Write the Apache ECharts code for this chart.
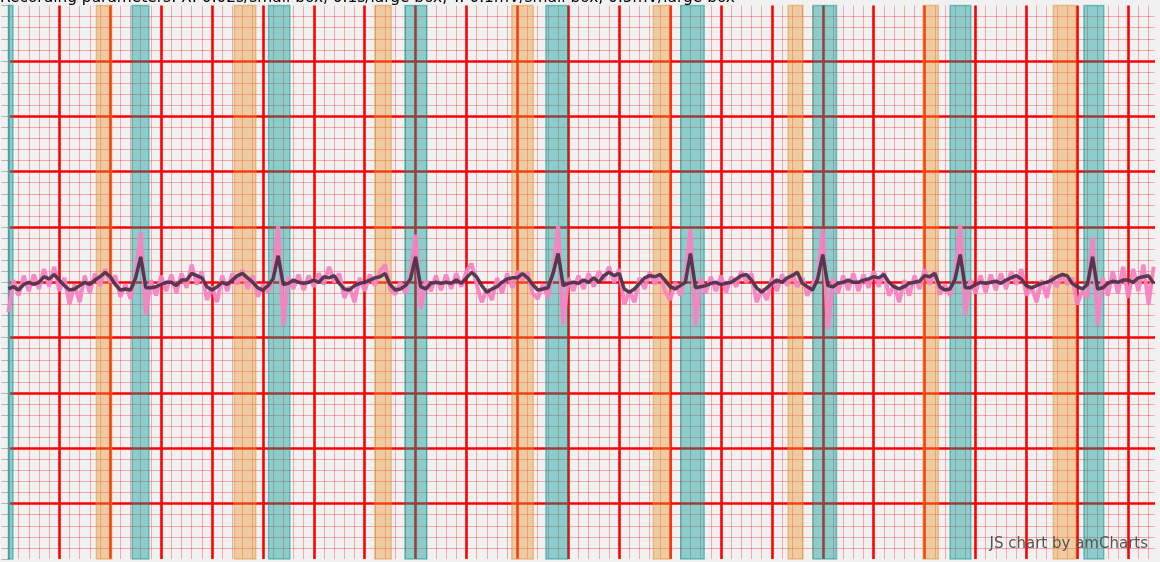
<!DOCTYPE html>
<html>
<head>
<meta charset="utf-8">
<script src="https://cdn.jsdelivr.net/npm/echarts@6/dist/echarts.min.js"></script>
<style>
html,body{margin:0;padding:0;background:#f1f1f1;}
#chart{width:1160px;height:562px;}
</style>
</head>
<body>
<div id="chart"></div>
<script>
// Sampling step in seconds
var SAMPLE_STEP = 0.01;
// Visible time range (s)
var X_MAX = 2.2527;

// Raw ECG signal (mV), one value per sample
var rawSignal = [
 -0.27,0.02,-0.12,0.06,-0.08,0.07,-0.06,0.12,-0.04,0.14,
 -0.08,0.04,-0.20,-0.02,-0.18,0.06,-0.10,0.08,-0.03,0.12,
 0.00,0.06,-0.13,-0.02,-0.15,0.08,0.45,-0.29,0.02,-0.12,
 0.06,-0.08,0.07,-0.10,0.08,-0.05,0.16,-0.02,0.10,-0.16,
 -0.04,-0.18,0.06,-0.08,0.08,-0.02,0.11,-0.06,0.06,-0.13,
 -0.02,-0.09,0.05,0.51,-0.39,0.05,-0.06,0.07,-0.07,0.06,
 -0.04,0.08,-0.02,0.14,0.00,0.08,-0.14,-0.04,-0.18,0.04,
 -0.08,0.07,-0.03,0.10,0.16,-0.06,-0.11,0.00,-0.10,0.08,
 0.43,-0.24,0.02,-0.08,0.06,-0.07,0.07,-0.06,0.08,-0.04,
 0.10,0.17,-0.02,-0.18,-0.06,-0.16,0.04,-0.10,0.08,-0.05,
 0.10,0.02,0.09,-0.10,-0.15,-0.02,-0.14,0.10,0.51,-0.38,
 0.04,-0.08,0.06,-0.06,0.08,-0.04,0.10,0.02,0.14,0.00,
 0.12,-0.20,-0.08,-0.18,0.04,-0.06,0.09,-0.02,0.08,-0.08,
 -0.16,0.00,-0.12,0.06,0.48,-0.39,0.04,-0.10,0.05,-0.08,
 0.06,-0.09,0.05,-0.04,0.10,0.00,0.08,-0.18,-0.06,-0.16,
 0.04,-0.08,0.07,-0.03,0.08,-0.04,0.04,-0.12,-0.02,0.06,
 0.48,-0.42,0.04,-0.10,0.06,-0.07,0.08,-0.08,0.07,-0.05,
 0.10,-0.04,0.09,-0.12,-0.02,-0.18,0.02,-0.12,0.06,-0.06,
 0.12,-0.02,0.10,-0.11,-0.02,-0.12,0.08,0.52,-0.30,0.02,
 -0.10,0.06,-0.09,0.07,-0.07,0.08,-0.06,0.10,-0.02,0.12,
 -0.12,-0.04,-0.18,0.02,-0.14,0.06,-0.04,0.08,-0.02,0.04,
 -0.20,-0.08,-0.14,0.40,-0.39,0.04,-0.12,0.10,-0.10,0.14,
 -0.14,0.12,-0.08,0.16,-0.20,0.14
];

// Filtered ECG signal (mV), one value per sample
var filteredSignal = [
 -0.06,-0.04,-0.07,-0.02,0.00,-0.02,0.00,0.05,0.03,0.07,
 0.02,-0.03,-0.07,-0.06,-0.03,0.00,-0.02,0.02,0.05,0.09,
 0.05,-0.02,-0.07,-0.06,-0.07,0.04,0.23,-0.05,-0.05,-0.04,
 -0.02,0.00,0.00,-0.03,0.02,0.02,0.08,0.06,0.04,-0.04,
 -0.07,-0.04,0.00,-0.02,0.02,0.06,0.08,0.04,0.00,-0.05,
 -0.07,-0.03,0.03,0.24,-0.02,-0.01,0.02,0.00,-0.01,0.00,
 0.02,0.00,0.05,0.04,0.06,-0.01,-0.06,-0.07,-0.03,-0.01,
 0.00,0.02,0.04,0.05,0.08,-0.02,-0.07,-0.06,-0.03,0.03,
 0.23,-0.04,-0.06,-0.01,0.00,-0.01,0.00,-0.01,0.02,-0.01,
 0.04,0.09,0.05,-0.03,-0.09,-0.06,-0.04,0.00,0.03,0.04,
 0.04,0.08,0.04,-0.02,-0.07,-0.06,-0.05,0.08,0.26,-0.03,
 -0.01,0.00,-0.01,0.02,0.00,0.04,0.00,0.06,0.09,0.06,
 0.08,-0.06,-0.09,-0.06,-0.01,0.04,0.06,0.05,0.07,0.02,
 -0.04,-0.06,-0.03,0.00,0.26,-0.05,-0.04,-0.03,-0.01,0.00,
 -0.02,-0.01,0.00,0.03,0.06,0.07,0.02,-0.05,-0.09,-0.05,
 -0.01,0.02,0.00,0.04,0.06,0.09,-0.01,-0.04,-0.07,0.03,
 0.25,-0.03,-0.04,-0.01,0.00,0.02,0.00,0.00,0.02,0.03,
 0.05,0.04,0.07,0.00,-0.04,-0.06,-0.04,-0.01,0.00,0.01,
 0.06,0.05,0.08,-0.04,-0.07,-0.06,0.03,0.25,-0.05,-0.05,
 -0.02,0.00,-0.01,0.00,0.01,-0.01,0.02,0.04,0.06,0.03,
 -0.03,-0.05,-0.03,-0.01,0.00,0.02,0.05,0.07,0.06,-0.01,
 -0.04,-0.06,-0.02,0.23,-0.06,-0.05,-0.01,0.01,0.00,0.02,
 0.02,0.00,0.04,0.05,0.06,-0.01
];

// P-wave bands [start s, end s]
var pWaveBands = [
 [0.173,0.203],[0.444,0.486],[0.720,0.752],[0.989,1.031],
 [1.267,1.300],[1.532,1.561],[1.797,1.827],[2.053,2.097]
];
// QRS bands [start s, end s]
var qrsBands = [
 [0.000,0.009],[0.243,0.276],[0.511,0.553],[0.779,0.822],[1.056,1.099],
 [1.321,1.367],[1.581,1.627],[1.850,1.891],[2.113,2.152]
];

var titleText = 'Recording parameters: X: 0.02s/small box, 0.1s/large box, Y: 0.1mV/small box, 0.5mV/large box';
var creditText = 'JS chart by amCharts';

function toPairs(arr){
  var out = [];
  for (var i = 0; i < arr.length; i++) out.push([+(i * SAMPLE_STEP).toFixed(3), arr[i]]);
  return out;
}
function toAreas(bands){
  return bands.map(function(b){ return [{xAxis: b[0]}, {xAxis: b[1]}]; });
}

var chart = echarts.init(document.getElementById('chart'), null, {renderer: 'canvas'});
var BG = '#f1f1f1';
var MAJOR = '#ff0000';
var MINOR = 'rgba(255,0,0,0.3)';

chart.setOption({
  backgroundColor: BG,
  animation: false,
  grid: {left: 8.4, top: 5.6, right: 5, bottom: 3, containLabel: false},
  xAxis: [
    {
      type: 'value', min: 0, max: X_MAX, interval: 0.02,
      axisLabel: {show: false}, axisTick: {show: false},
      axisLine: {show: true, lineStyle: {color: 'rgba(255,0,0,0.35)', width: 1}},
      splitLine: {show: true, showMinLine: false, showMaxLine: false, lineStyle: {color: MINOR, width: 1}}
    },
    {
      type: 'value', min: 0, max: X_MAX, interval: 0.1, position: 'bottom',
      axisLabel: {show: false}, axisTick: {show: false}, axisLine: {show: false},
      splitLine: {show: true, showMinLine: false, showMaxLine: false, lineStyle: {color: MAJOR, width: 2.6}}
    }
  ],
  yAxis: {
    type: 'value', min: -2.5, max: 2.5, interval: 0.5,
    axisLabel: {show: false},
    axisLine: {show: true, onZero: false, lineStyle: {color: '#b4b4b4', width: 2}},
    axisTick: {show: true, length: 7, lineStyle: {color: '#b4b4b4', width: 1}},
    minorTick: {show: true, splitNumber: 5, length: 7, lineStyle: {color: '#b4b4b4', width: 1}},
    splitLine: {show: true, showMinLine: false, showMaxLine: false, lineStyle: {color: MAJOR, width: 2.6}},
    minorSplitLine: {show: true, lineStyle: {color: MINOR, width: 1}}
  },
  series: [
    {
      type: 'line', data: [], z: 1, silent: true,
      markArea: {
        silent: true,
        data: toAreas(pWaveBands),
        itemStyle: {color: 'rgba(233,150,50,0.42)', borderColor: 'rgba(225,140,40,0.45)', borderWidth: 1.5}
      }
    },
    {
      type: 'line', data: [], z: 1, silent: true,
      markArea: {
        silent: true,
        data: toAreas(qrsBands),
        itemStyle: {color: 'rgba(0,156,149,0.42)', borderColor: 'rgba(0,140,135,0.45)', borderWidth: 1.5}
      }
    },
    {
      name: 'raw', type: 'line', z: 3, showSymbol: false, symbol: 'none',
      data: toPairs(rawSignal),
      lineStyle: {color: '#f583c2', width: 4, opacity: 0.95},
      clip: true
    },
    {
      name: 'filtered', type: 'line', z: 4, showSymbol: false, symbol: 'none',
      data: toPairs(filteredSignal),
      lineStyle: {color: '#4a3045', width: 3.5, opacity: 0.92},
      clip: true
    }
  ],
  graphic: [
    {type: 'text', left: 0, top: -10, z: 101,
     style: {text: titleText, font: '15.4px "DejaVu Sans"', fill: '#000'}},
    {type: 'text', right: 12, top: 537, z: 101,
     style: {text: creditText, font: '15px "DejaVu Sans"', fill: '#555'}}
  ]
});
</script>
</body>
</html>
